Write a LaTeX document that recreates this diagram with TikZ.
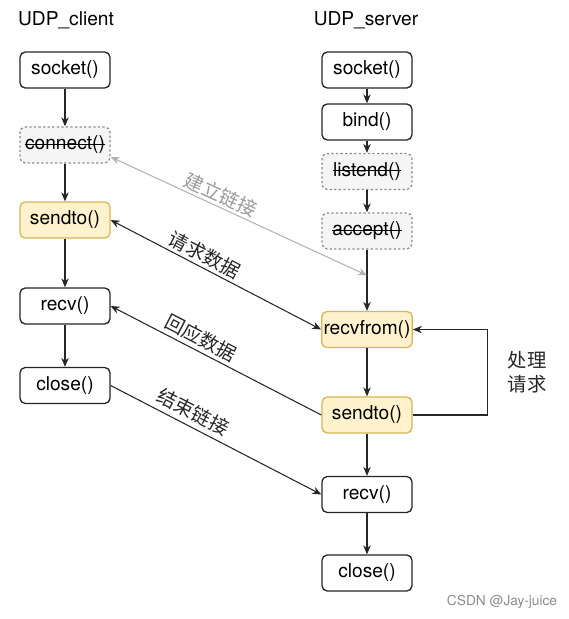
\documentclass[tikz,border=0pt]{standalone}
\usepackage{fontspec}
\setmainfont{TeX Gyre Heros}
\newfontfamily\cjk{Noto Sans CJK SC}
\usetikzlibrary{positioning,arrows.meta,calc}
\definecolor{uCall}{HTML}{FFF2CC}
\definecolor{uCallLine}{HTML}{D6B656}
\definecolor{uGhost}{HTML}{F5F5F5}
\definecolor{uGhostLine}{HTML}{8C8C8C}
\definecolor{uLink}{HTML}{B3B3B3}
\definecolor{uLinkText}{HTML}{9A9A9A}
\tikzset{
  >={Stealth[length=1.8mm, width=1.5mm]},
  blk/.style={draw=black!85, line width=0.75pt, rounded corners=3pt, align=center,
              font=\fontsize{10.9}{13}\selectfont, minimum width=18mm,
              minimum height=7.2mm, inner sep=1pt, fill=white},
  call/.style={blk, draw=uCallLine, fill=uCall},
  ghost/.style={blk, draw=uGhostLine, fill=uGhost, dash pattern=on 1.3pt off 1.3pt},
  flow/.style={->, line width=0.6pt, black!85},
  % labels that ride above a sloped arrow
  lbl/.style={font=\cjk\fontsize{11}{13.5}\selectfont, inner sep=1pt},
  title/.style={font=\fontsize{10.9}{13}\selectfont, inner sep=1pt},
  wmark/.style={font=\fontsize{7.8}{9}\selectfont, text=black!45, inner sep=1pt},
}
% struck-out call name
\newcommand{\gone}[1]{\setbox0\hbox{#1}\rlap{\rule[0.27em]{\wd0}{0.6pt}}\box0}

\begin{document}
\begin{tikzpicture}
\useasboundingbox (0,0) rectangle (11.36,-12.38);

%% ── client column ─────────────────────────────────────────────────────────
\node[title] (ctitle) at (1.32,-0.40) {UDP\_client};
\node[blk]   (csock)  at (1.30,-1.40) {socket()};
\node[ghost] (cconn)  at (1.30,-2.90) {\gone{connect()}};
\node[call]  (csend)  at (1.30,-4.40) {sendto()};
\node[blk]   (crecv)  at (1.30,-6.12) {recv()};
\node[blk]   (cclose) at (1.30,-7.71) {close()};

\draw[flow] (csock) -- (cconn);
\draw[flow] (cconn) -- (csend);
\draw[flow] (csend) -- (crecv);
\draw[flow] (crecv) -- (cclose);

%% ── server column ─────────────────────────────────────────────────────────
\node[title] (stitle)  at (7.32,-0.40) {UDP\_server};
\node[blk]   (ssock)   at (7.34,-1.40) {socket()};
\node[blk]   (sbind)   at (7.34,-2.44) {bind()};
\node[ghost] (slisten) at (7.34,-3.43) {\gone{listend()}};
\node[ghost] (saccept) at (7.34,-4.62) {\gone{accept()}};
\node[call]  (srecvf)  at (7.34,-6.59) {recvfrom()};
\node[call]  (ssend)   at (7.34,-8.30) {sendto()};
\node[blk]   (srecv)   at (7.34,-9.89) {recv()};
\node[blk]   (sclose)  at (7.34,-11.46) {close()};

\draw[flow] (ssock) -- (sbind);
\draw[flow] (sbind) -- (slisten);
\draw[flow] (slisten) -- (saccept);
\draw[flow] (saccept) -- (srecvf);
\draw[flow] (srecvf) -- (ssend);
\draw[flow] (ssend) -- (srecv);
\draw[flow] (srecv) -- (sclose);

%% ── loop on the server ────────────────────────────────────────────────────
\draw[flow] (ssend.east) -- ++(1.5,0) |- node[lbl, pos=0.25, right=3.6mm, align=left]
  {处理\\请求} (srecvf.east);

%% ── messages between the two ──────────────────────────────────────────────
\coordinate (hit) at ($(saccept.south)!0.42!(srecvf.north)$);
\draw[<->, line width=0.6pt, uLink] ([yshift=-2.4mm]cconn.east) -- node[lbl, text=uLinkText,
  pos=0.41, sloped, above=0.5pt] {建立链接} (hit);
\draw[flow, <->] (csend.east) -- node[lbl, pos=0.42, sloped, above=0.5pt] {请求数据} (srecvf.west);
\draw[flow, <-] (crecv.east) -- node[lbl, pos=0.40, sloped, above=1pt] {回应数据} (ssend.west);
\draw[flow] (cclose.east) -- node[lbl, pos=0.36, sloped, above=2pt] {结束链接} (srecv.west);

\node[wmark] (credit) at (10.04,-12.04) {CSDN @Jay-juice};

\end{tikzpicture}
\end{document}
